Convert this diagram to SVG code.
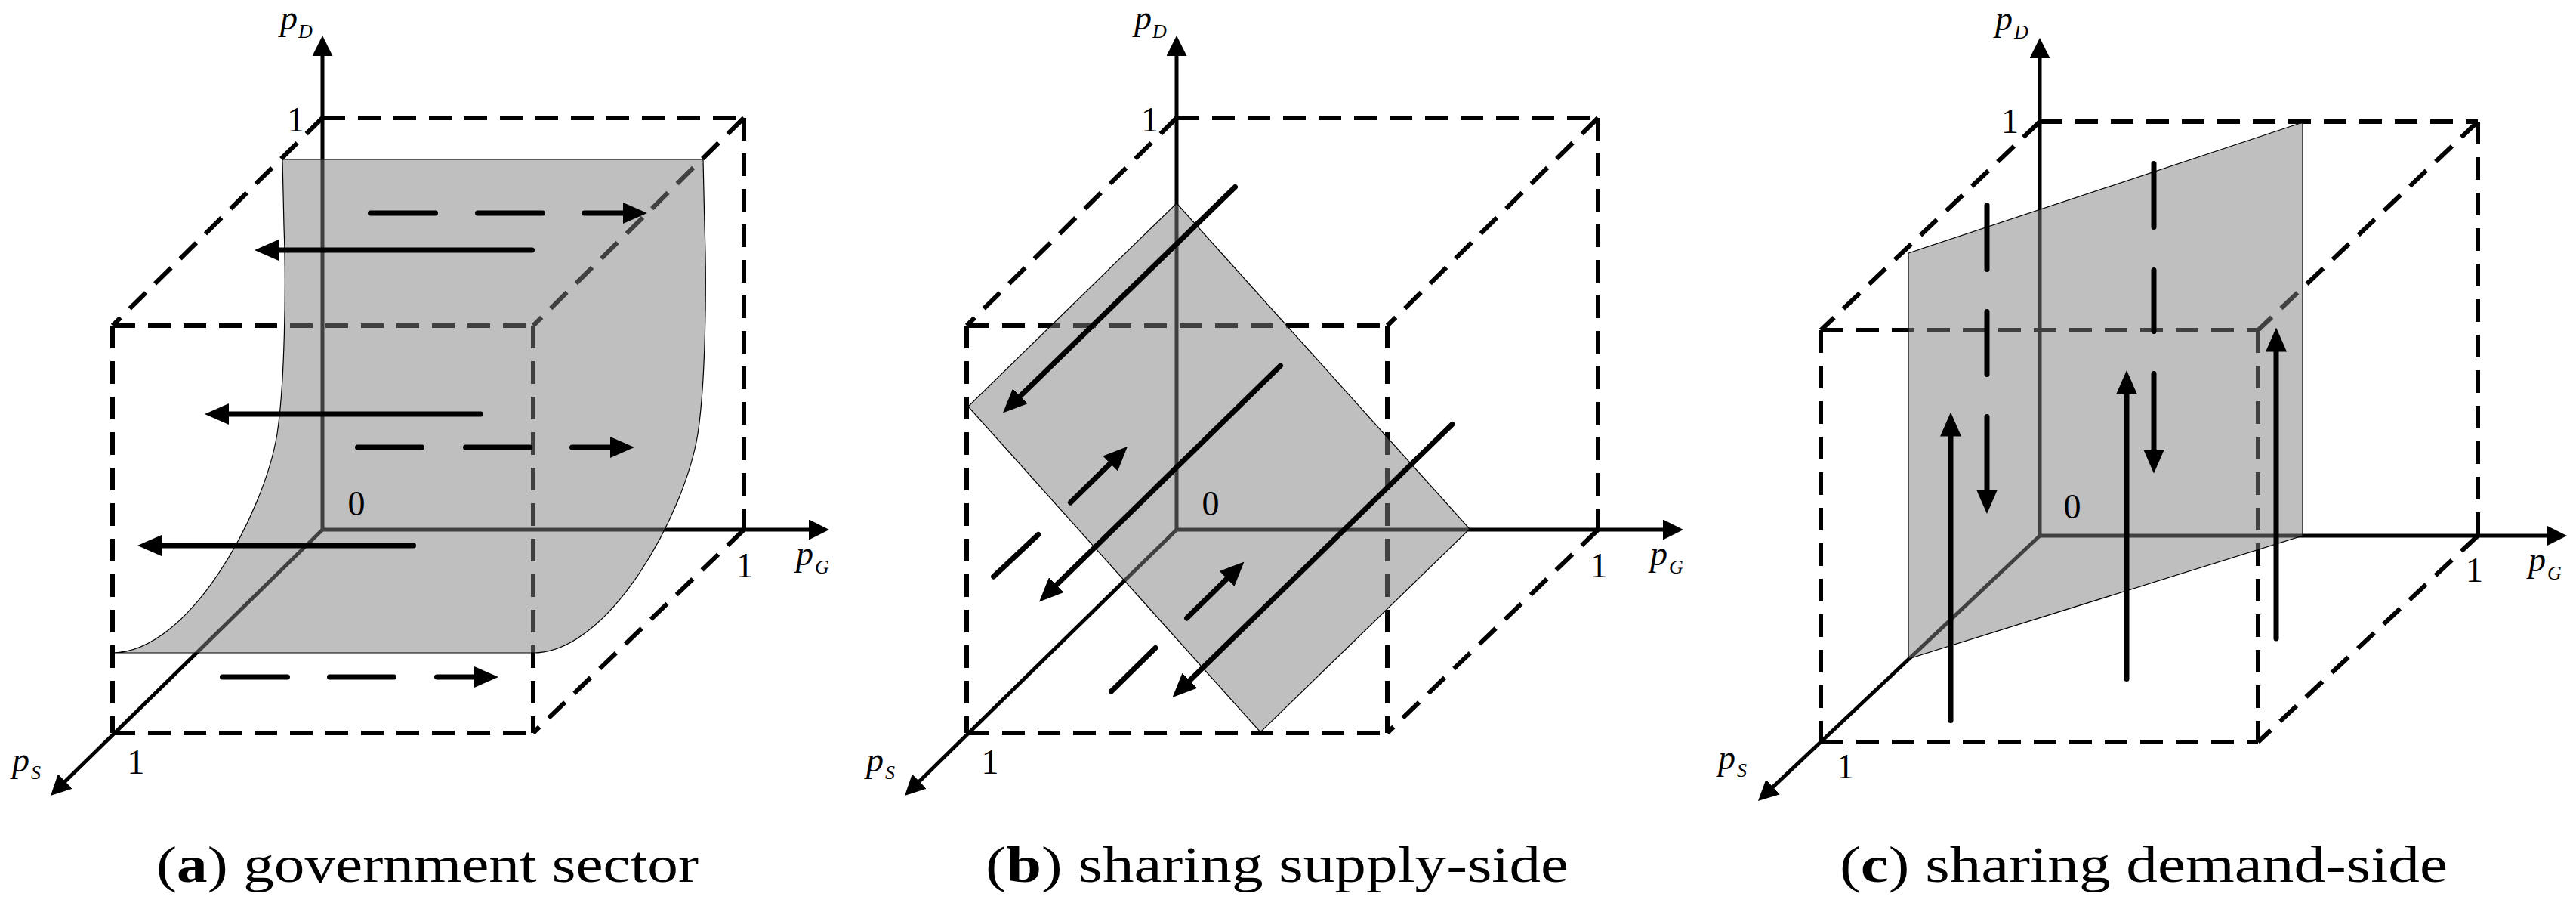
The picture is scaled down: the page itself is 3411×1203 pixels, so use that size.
<svg xmlns="http://www.w3.org/2000/svg" width="3411" height="1203" viewBox="0 0 3411 1203">
<style>
.box{fill:none;stroke:#000;stroke-width:6;stroke-dasharray:30 17}
.axis{fill:none;stroke:#000;stroke-width:5;marker-end:url(#axh)}
.surf{fill:#808080;fill-opacity:0.5;stroke:#000;stroke-width:1.2}
.seg{fill:none;stroke:#000;stroke-width:7;stroke-linecap:round}
.arr{fill:none;stroke:#000;stroke-width:7;stroke-linecap:round;marker-end:url(#ah)}
.it{font-family:"Liberation Serif",serif;font-style:italic;font-size:46px;fill:#000}
.sub{font-family:"Liberation Serif",serif;font-style:italic;font-size:26px;fill:#000}
.num{font-family:"Liberation Serif",serif;font-size:46px;fill:#000;text-anchor:middle}
.cap{font-family:"Liberation Serif",serif;font-size:68px;fill:#000}
</style>
<defs>
<marker id="ah" viewBox="0 0 32 28" refX="12" refY="14" markerWidth="32" markerHeight="28" markerUnits="userSpaceOnUse" orient="auto"><path d="M0,0 L32,14 L0,28 z" fill="#000"/></marker>
<marker id="axh" viewBox="0 0 27 27" refX="12" refY="13.5" markerWidth="27" markerHeight="27" markerUnits="userSpaceOnUse" orient="auto"><path d="M0,0 L27,13.5 L0,27 z" fill="#000"/></marker>
</defs>

<g id="panel-a">
  <g id="a-box">
    <path class="box" d="M427,156 H985"/>
    <path class="box" d="M985,156 V701"/>
    <path class="box" d="M427,156 L149,431"/>
    <path class="box" d="M985,156 L706,431"/>
    <path class="box" d="M985,701 L706,970"/>
    <path class="box" d="M149,431 H706"/>
    <path class="box" d="M149,431 V970"/>
    <path class="box" d="M149,970 H706"/>
    <path class="box" d="M706,431 V970"/>
  </g>
  <g id="a-axes">
    <path class="axis" d="M427,701 V62"/>
    <path class="axis" d="M427,701 H1083"/>
    <path class="axis" d="M427,701 L77.7,1042.5"/>
  </g>
  <path id="a-surface" class="surf" d="M374,211 L931,211 L933,300 C936,380 934,510 924,574 C907,680 807,864 706,864 L149,864 C250,864 350,680 367,574 C377,510 379,380 376,300 Z"/>
  <g id="a-arrows">
    <path class="seg" d="M490.5,282 H576.5 M632.5,282 H718.5"/>
    <path class="arr" d="M773.5,282 H837"/>
    <path class="arr" d="M704.5,331 H357"/>
    <path class="arr" d="M636.5,548 H291"/>
    <path class="seg" d="M473.5,592 H558.5 M616.5,592 H701.5"/>
    <path class="arr" d="M757.5,592 H820"/>
    <path class="arr" d="M547.5,722 H202"/>
    <path class="seg" d="M294.5,896 H380.5 M436.5,896 H521.5"/>
    <path class="arr" d="M578.5,896 H640"/>
  </g>
  <g id="a-labels">
    <text class="it" x="371" y="39">p</text><text class="sub" x="395" y="50">D</text>
    <text class="num" x="391.5" y="174">1</text>
    <text class="num" x="472" y="682">0</text>
    <text class="it" x="1054" y="748">p</text><text class="sub" x="1079" y="759">G</text>
    <text class="num" x="986" y="764">1</text>
    <text class="it" x="16" y="1021">p</text><text class="sub" x="41" y="1031">S</text>
    <text class="num" x="180" y="1024">1</text>
  </g>
  <text id="a-caption" class="cap" x="207" y="1167" textLength="718" lengthAdjust="spacingAndGlyphs">(<tspan font-weight="bold">a</tspan>) government sector</text>
</g>

<g id="panel-b" transform="translate(1131,0)">
  <g id="b-box">
    <path class="box" d="M427,156 H985"/>
    <path class="box" d="M985,156 V701"/>
    <path class="box" d="M427,156 L149,431"/>
    <path class="box" d="M985,156 L706,431"/>
    <path class="box" d="M985,701 L706,970"/>
    <path class="box" d="M149,431 H706"/>
    <path class="box" d="M149,431 V970"/>
    <path class="box" d="M149,970 H706"/>
    <path class="box" d="M706,431 V970"/>
  </g>
  <g id="b-axes">
    <path class="axis" d="M427,701 V62"/>
    <path class="axis" d="M427,701 H1083"/>
    <path class="axis" d="M427,701 L77.7,1042.5"/>
  </g>
  <path id="b-surface" class="surf" d="M427,269 L815,700 L538,969 L151,538 Z"/>
  <g id="b-arrows">
    <path class="arr" d="M504.5,247.4 L211.3,532.6"/>
    <path class="arr" d="M564.5,484 L259.3,782.5"/>
    <path class="arr" d="M792,561.4 L435.8,909"/>
    <path class="seg" d="M184.6,763.1 L243.9,707.4"/>
    <path class="arr" d="M286.5,665.1 L347.7,605"/>
    <path class="seg" d="M340.5,915.1 L399,857.4"/>
    <path class="arr" d="M440.5,818 L502.2,757.5"/>
  </g>
  <g id="b-labels">
    <text class="it" x="371" y="39">p</text><text class="sub" x="395" y="50">D</text>
    <text class="num" x="391.5" y="174">1</text>
    <text class="num" x="472" y="682">0</text>
    <text class="it" x="1054" y="748">p</text><text class="sub" x="1079" y="759">G</text>
    <text class="num" x="986" y="764">1</text>
    <text class="it" x="16" y="1021">p</text><text class="sub" x="41" y="1031">S</text>
    <text class="num" x="180" y="1024">1</text>
  </g>
  <text id="b-caption" class="cap" x="174" y="1167" textLength="772" lengthAdjust="spacingAndGlyphs">(<tspan font-weight="bold">b</tspan>) sharing supply-side</text>
</g>

<g id="panel-c">
  <g id="c-box">
    <path class="box" d="M2701,161 H3281"/>
    <path class="box" d="M3281,161 V709"/>
    <path class="box" d="M2701,161 L2411,437"/>
    <path class="box" d="M3281,161 L2990,437"/>
    <path class="box" d="M3281,709 L2990,982"/>
    <path class="box" d="M2411,437 H2990"/>
    <path class="box" d="M2411,437 V982"/>
    <path class="box" d="M2411,982 H2990"/>
    <path class="box" d="M2990,437 V982"/>
  </g>
  <g id="c-axes">
    <path class="axis" d="M2701,709 V65"/>
    <path class="axis" d="M2701,709 H3384"/>
    <path class="axis" d="M2701,709 L2338.9,1049.7"/>
  </g>
  <path id="c-surface" class="surf" d="M2527,335 L3049,162 L3049,709 L2527,872 Z"/>
  <g id="c-arrows">
    <path class="arr" d="M2583,953.5 V565.5"/>
    <path class="arr" d="M2816,898.5 V510"/>
    <path class="arr" d="M3014,845 V453.5"/>
    <path class="seg" d="M2631,271.5 V356.5 M2631,412.5 V495.5"/>
    <path class="arr" d="M2631,551.5 V660"/>
    <path class="seg" d="M2852,216.5 V300.5 M2852,357.5 V438.5"/>
    <path class="arr" d="M2852,494.5 V606.5"/>
  </g>
  <g id="c-labels">
    <text class="it" x="2642" y="40">p</text><text class="sub" x="2667" y="51">D</text>
    <text class="num" x="2661.5" y="176">1</text>
    <text class="num" x="2744" y="686">0</text>
    <text class="it" x="3348" y="756">p</text><text class="sub" x="3373" y="767">G</text>
    <text class="num" x="3276.5" y="770">1</text>
    <text class="it" x="2275" y="1018">p</text><text class="sub" x="2300" y="1028">S</text>
    <text class="num" x="2443.5" y="1030">1</text>
  </g>
  <text id="c-caption" class="cap" x="2436" y="1167" textLength="805" lengthAdjust="spacingAndGlyphs">(<tspan font-weight="bold">c</tspan>) sharing demand-side</text>
</g>
</svg>
